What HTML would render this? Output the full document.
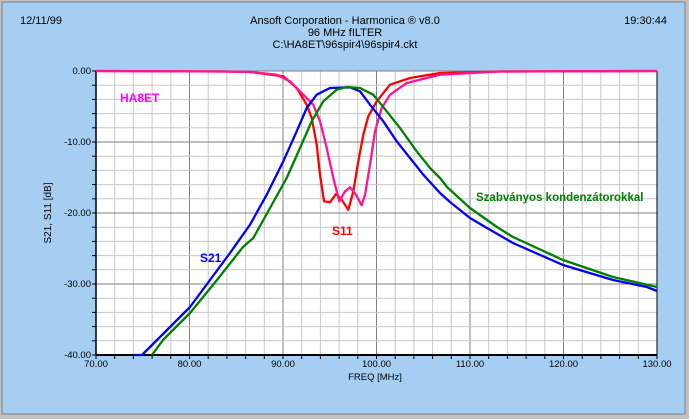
<!DOCTYPE html>
<html><head><meta charset="utf-8"><style>
body{margin:0;background:#c8c8c8}
svg{display:block}
text{font-family:"Liberation Sans",sans-serif}
</style></head><body>
<svg width="689" height="419" viewBox="0 0 689 419" xmlns="http://www.w3.org/2000/svg">
<rect x="0" y="0" width="689" height="419" fill="#c0c0c0"/>
<rect x="2" y="2" width="683" height="412" fill="#a6cef3" stroke="#808080"/>
<g font-size="11" fill="#000">
<text x="20" y="24">12/11/99</text>
<text x="345" y="24" text-anchor="middle">Ansoft Corporation - Harmonica ® v8.0</text>
<text x="345" y="36" text-anchor="middle">96 MHz fILTER</text>
<text x="345" y="48" text-anchor="middle">C:\HA8ET\96spir4\96spir4.ckt</text>
<text x="667" y="24" text-anchor="end">19:30:44</text>
</g>
<rect x="96" y="71" width="561" height="284" fill="#fff"/>
<g id="grid"></g>
<g id="ticks"></g>
<g font-size="9.5" fill="#000" id="lab"></g>
<text x="375" y="380" font-size="9.5" text-anchor="middle">FREQ [MHz]</text>
<text transform="translate(51,213) rotate(-90)" font-size="10" text-anchor="middle">S21, S11 [dB]</text>
<polyline id="red" fill="none" stroke="#ff0000" stroke-width="2.3" stroke-linejoin="round"/>
<polyline id="pink" fill="none" stroke="#ff1493" stroke-width="2.3" stroke-linejoin="round"/>
<polyline id="blue" fill="none" stroke="#0000ff" stroke-width="2.3" stroke-linejoin="round"/>
<polyline id="green" fill="none" stroke="#008000" stroke-width="2.3" stroke-linejoin="round"/>
<text x="120" y="102" font-size="12" font-weight="bold" fill="#ff00ff">HA8ET</text>
<text x="200" y="262" font-size="12" font-weight="bold" fill="#0000ff">S21</text>
<text x="332" y="235" font-size="12" font-weight="bold" fill="#ff0000">S11</text>
<text x="476" y="201" font-size="11.5" font-weight="bold" fill="#008000">Szabványos kondenzátorokkal</text>
<script>
var ns="http://www.w3.org/2000/svg",g=document.getElementById('grid'),t=document.getElementById('ticks'),l=document.getElementById('lab');
function ln(p,x1,y1,x2,y2,c,w){var e=document.createElementNS(ns,'line');e.setAttribute('x1',x1);e.setAttribute('y1',y1);e.setAttribute('x2',x2);e.setAttribute('y2',y2);e.setAttribute('stroke',c);e.setAttribute('stroke-width',w);p.appendChild(e);}
function tx(s,x,y,a){var e=document.createElementNS(ns,'text');e.setAttribute('x',x);e.setAttribute('y',y);e.setAttribute('text-anchor',a);e.textContent=s;l.appendChild(e);}
for(var i=0;i<=30;i++){var x=96+i*561/30;var maj=i%5==0;ln(g,x,71,x,355,maj?'#808080':'#c8c8c8',1);ln(t,x,355,x,359,'#000',1);if(maj)tx((70+i*2).toFixed(2),x,367,'middle');}
for(var j=0;j<=20;j++){var y=71+j*284/20;var maj=j%5==0;ln(g,96,y,657,y,maj?'#808080':'#c8c8c8',1);ln(t,92,y,96,y,'#000',1);if(maj)tx(j==0?'0.00':(-j*2).toFixed(2),91,y+3,'end');}
ln(t,96,71,96,355,'#000',1.5);ln(t,96,355,657,355,'#000',2);ln(t,657,71,657,355,'#000',1);
function z(a){return a.map(function(p){return (250+p[0]/3).toFixed(1)+','+(68+p[1]/3).toFixed(1)}).join(' ');}
document.getElementById('red').setAttribute('points','96,71 225,71.5 '+z([[0,12],[100,25],[140,60],[170,110],[185,150],[200,230],[210,320],[222,400],[240,403],[258,378],[275,395],[295,425],[310,370],[325,280],[340,200],[355,145],[380,100],[420,50],[480,30],[570,15]])+' 500,71.5 657,71');
document.getElementById('pink').setAttribute('points','96,71 225,71.5 '+z([[0,12],[80,20],[120,40],[160,80],[190,110],[210,160],[230,240],[250,330],[268,400],[285,370],[300,358],[318,380],[335,412],[345,380],[360,290],[375,190],[395,120],[420,80],[470,45],[570,20]])+' 500,71.5 657,71');
document.getElementById('blue').setAttribute('points','135,355 142,355 150,347 190,307 210,280 230,253 '+z([[0,470],[50,380],[100,280],[140,190],[170,120],[200,80],[240,60],[300,58],[330,70],[360,110],[400,160],[440,220],[480,270],[520,320],[570,375]])+' 450,202 470,218 487,228 513,243 563,265 613,280 647,287 657,291');
document.getElementById('green').setAttribute('points','152,355 163,340 190,313 217,280 243,247 '+z([[10,510],[60,420],[110,330],[150,240],[185,160],[220,100],[260,65],[290,57],[330,60],[370,80],[410,130],[450,180],[500,250],[540,300],[570,330]])+' 447,187 470,208 497,227 513,237 563,260 613,277 657,287');
</script>
</svg>
</body></html>
